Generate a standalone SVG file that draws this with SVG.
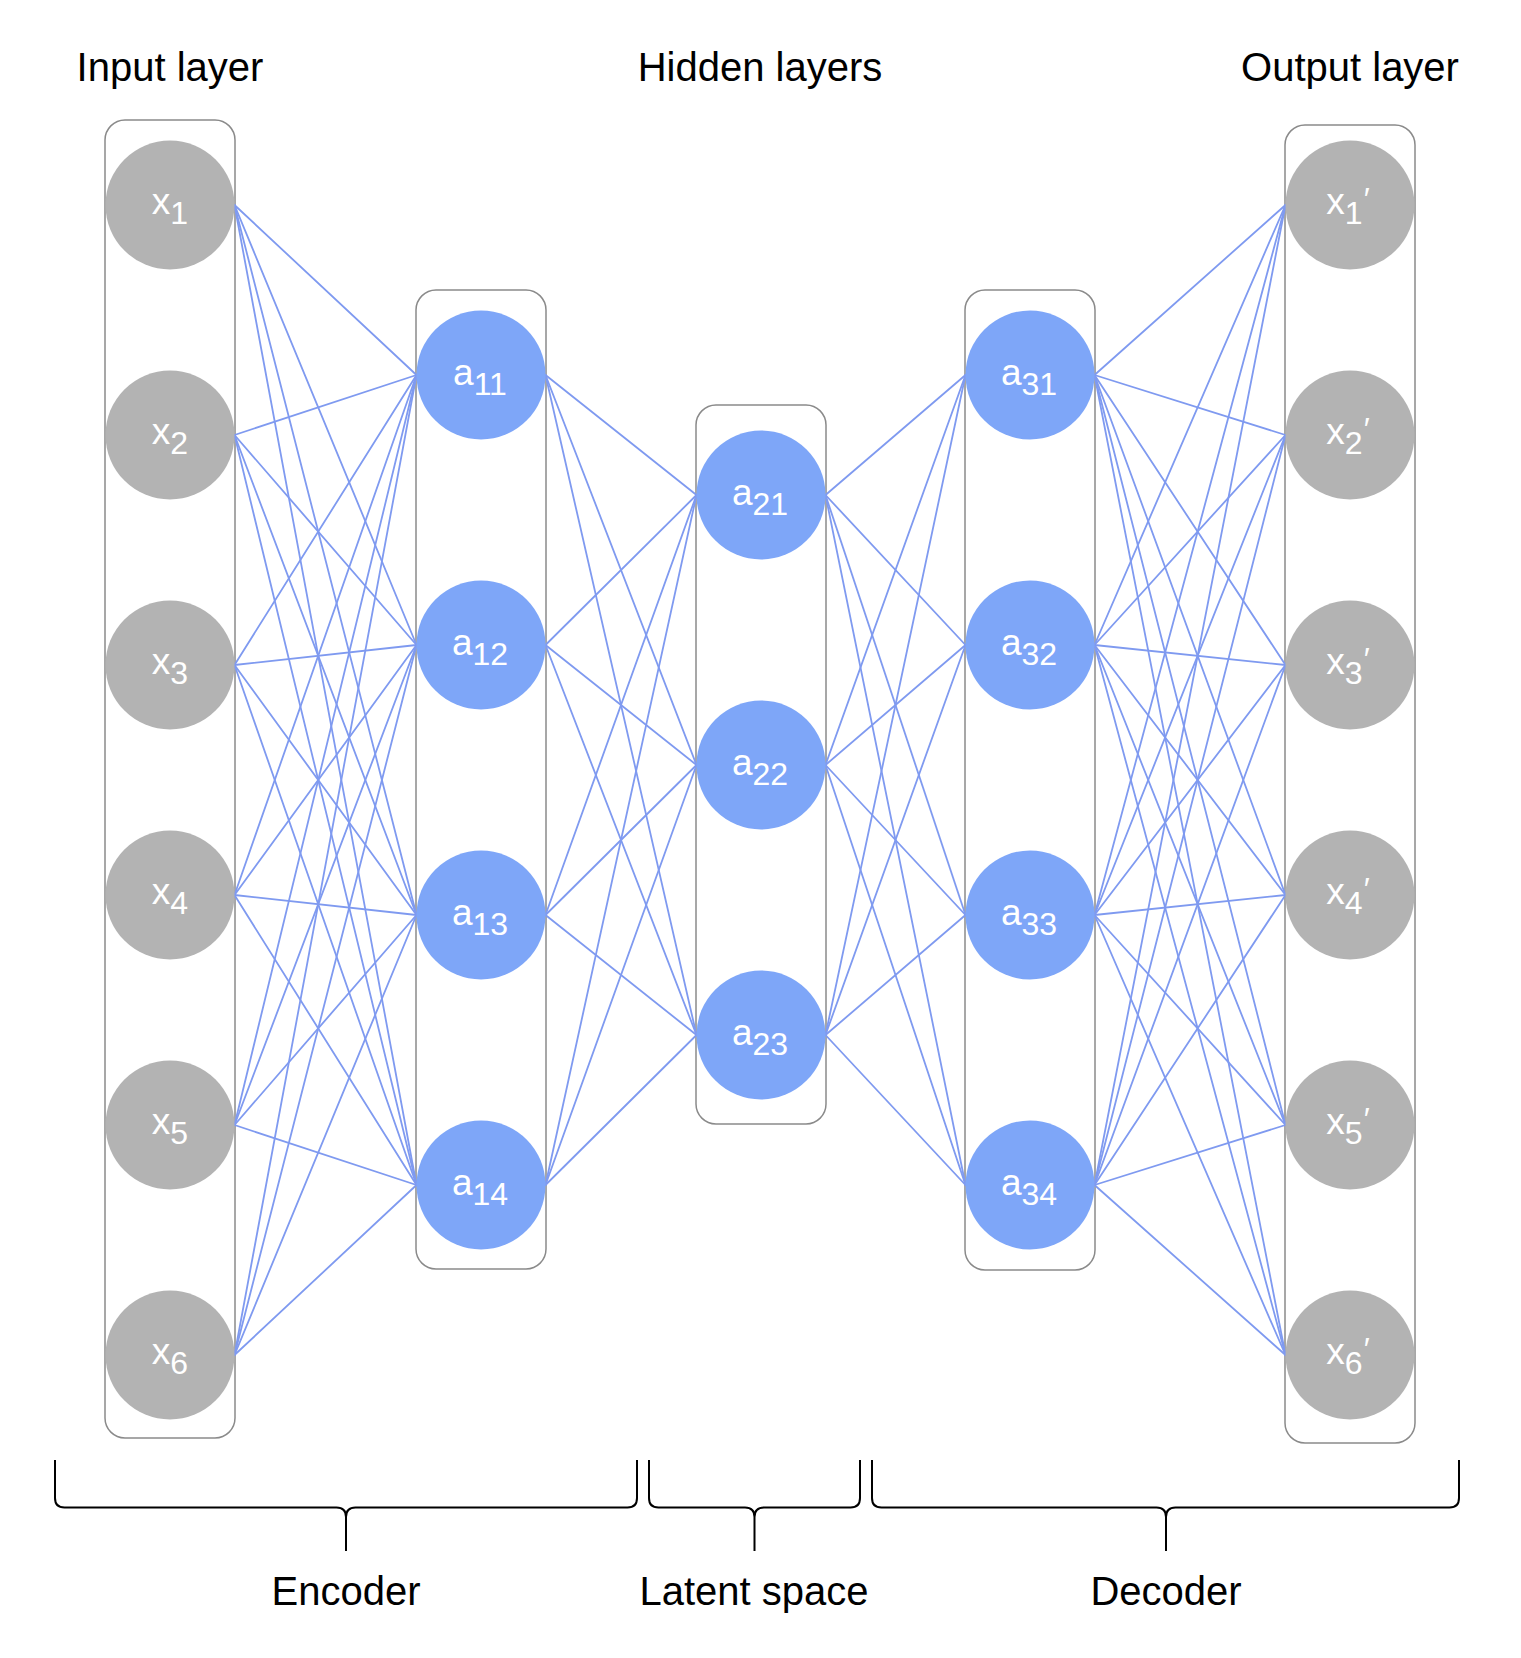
<svg xmlns="http://www.w3.org/2000/svg" width="1521" height="1658" viewBox="0 0 1521 1658">
<style>
.bg{fill:#ffffff}
.box{fill:none;stroke:#8a8a8a;stroke-width:1.5}
.gray{fill:#b3b3b3}
.blue{fill:#7ea6f8}
.c line{stroke:#7f9af0;stroke-width:1.8;stroke-linecap:round}
.lbl{font-family:"Liberation Sans",Arial,sans-serif;font-size:37px;fill:#ffffff;text-anchor:middle}
.sub{font-size:32px}
.pr{font-size:32px}
.title{font-family:"Liberation Sans",Arial,sans-serif;font-size:40px;fill:#000000;text-anchor:middle}
.brace{fill:none;stroke:#000000;stroke-width:2}
</style>
<rect class="bg" x="0" y="0" width="1521" height="1658"/>

<g id="layer-boxes">
<rect id="box-input" class="box" x="105" y="120" width="130" height="1318" rx="20"/>
<rect id="box-h1" class="box" x="416" y="290" width="130" height="979" rx="20"/>
<rect id="box-h2" class="box" x="696" y="405" width="130" height="719" rx="20"/>
<rect id="box-h3" class="box" x="965" y="290" width="130" height="980" rx="20"/>
<rect id="box-output" class="box" x="1285" y="125" width="130" height="1318" rx="20"/>
</g>

<g id="connectors" class="c">
<line x1="234.5" y1="205" x2="416.5" y2="375"/>
<line x1="234.5" y1="205" x2="416.5" y2="645"/>
<line x1="234.5" y1="205" x2="416.5" y2="915"/>
<line x1="234.5" y1="205" x2="416.5" y2="1185"/>
<line x1="234.5" y1="435" x2="416.5" y2="375"/>
<line x1="234.5" y1="435" x2="416.5" y2="645"/>
<line x1="234.5" y1="435" x2="416.5" y2="915"/>
<line x1="234.5" y1="435" x2="416.5" y2="1185"/>
<line x1="234.5" y1="665" x2="416.5" y2="375"/>
<line x1="234.5" y1="665" x2="416.5" y2="645"/>
<line x1="234.5" y1="665" x2="416.5" y2="915"/>
<line x1="234.5" y1="665" x2="416.5" y2="1185"/>
<line x1="234.5" y1="895" x2="416.5" y2="375"/>
<line x1="234.5" y1="895" x2="416.5" y2="645"/>
<line x1="234.5" y1="895" x2="416.5" y2="915"/>
<line x1="234.5" y1="895" x2="416.5" y2="1185"/>
<line x1="234.5" y1="1125" x2="416.5" y2="375"/>
<line x1="234.5" y1="1125" x2="416.5" y2="645"/>
<line x1="234.5" y1="1125" x2="416.5" y2="915"/>
<line x1="234.5" y1="1125" x2="416.5" y2="1185"/>
<line x1="234.5" y1="1355" x2="416.5" y2="375"/>
<line x1="234.5" y1="1355" x2="416.5" y2="645"/>
<line x1="234.5" y1="1355" x2="416.5" y2="915"/>
<line x1="234.5" y1="1355" x2="416.5" y2="1185"/>

<line x1="545.5" y1="375" x2="696.5" y2="495"/>
<line x1="545.5" y1="375" x2="696.5" y2="765"/>
<line x1="545.5" y1="375" x2="696.5" y2="1035"/>
<line x1="545.5" y1="645" x2="696.5" y2="495"/>
<line x1="545.5" y1="645" x2="696.5" y2="765"/>
<line x1="545.5" y1="645" x2="696.5" y2="1035"/>
<line x1="545.5" y1="915" x2="696.5" y2="495"/>
<line x1="545.5" y1="915" x2="696.5" y2="765"/>
<line x1="545.5" y1="915" x2="696.5" y2="1035"/>
<line x1="545.5" y1="1185" x2="696.5" y2="495"/>
<line x1="545.5" y1="1185" x2="696.5" y2="765"/>
<line x1="545.5" y1="1185" x2="696.5" y2="1035"/>

<line x1="825.5" y1="495" x2="965.5" y2="375"/>
<line x1="825.5" y1="495" x2="965.5" y2="645"/>
<line x1="825.5" y1="495" x2="965.5" y2="915"/>
<line x1="825.5" y1="495" x2="965.5" y2="1185"/>
<line x1="825.5" y1="765" x2="965.5" y2="375"/>
<line x1="825.5" y1="765" x2="965.5" y2="645"/>
<line x1="825.5" y1="765" x2="965.5" y2="915"/>
<line x1="825.5" y1="765" x2="965.5" y2="1185"/>
<line x1="825.5" y1="1035" x2="965.5" y2="375"/>
<line x1="825.5" y1="1035" x2="965.5" y2="645"/>
<line x1="825.5" y1="1035" x2="965.5" y2="915"/>
<line x1="825.5" y1="1035" x2="965.5" y2="1185"/>

<line x1="1094.5" y1="375" x2="1285.5" y2="205"/>
<line x1="1094.5" y1="375" x2="1285.5" y2="435"/>
<line x1="1094.5" y1="375" x2="1285.5" y2="665"/>
<line x1="1094.5" y1="375" x2="1285.5" y2="895"/>
<line x1="1094.5" y1="375" x2="1285.5" y2="1125"/>
<line x1="1094.5" y1="375" x2="1285.5" y2="1355"/>
<line x1="1094.5" y1="645" x2="1285.5" y2="205"/>
<line x1="1094.5" y1="645" x2="1285.5" y2="435"/>
<line x1="1094.5" y1="645" x2="1285.5" y2="665"/>
<line x1="1094.5" y1="645" x2="1285.5" y2="895"/>
<line x1="1094.5" y1="645" x2="1285.5" y2="1125"/>
<line x1="1094.5" y1="645" x2="1285.5" y2="1355"/>
<line x1="1094.5" y1="915" x2="1285.5" y2="205"/>
<line x1="1094.5" y1="915" x2="1285.5" y2="435"/>
<line x1="1094.5" y1="915" x2="1285.5" y2="665"/>
<line x1="1094.5" y1="915" x2="1285.5" y2="895"/>
<line x1="1094.5" y1="915" x2="1285.5" y2="1125"/>
<line x1="1094.5" y1="915" x2="1285.5" y2="1355"/>
<line x1="1094.5" y1="1185" x2="1285.5" y2="205"/>
<line x1="1094.5" y1="1185" x2="1285.5" y2="435"/>
<line x1="1094.5" y1="1185" x2="1285.5" y2="665"/>
<line x1="1094.5" y1="1185" x2="1285.5" y2="895"/>
<line x1="1094.5" y1="1185" x2="1285.5" y2="1125"/>
<line x1="1094.5" y1="1185" x2="1285.5" y2="1355"/>
</g>

<g id="x1"><circle class="gray" cx="170" cy="205" r="64.5"/><text class="lbl" x="170" y="214">x<tspan class="sub" dy="10">1</tspan></text></g>
<g id="x2"><circle class="gray" cx="170" cy="435" r="64.5"/><text class="lbl" x="170" y="444">x<tspan class="sub" dy="10">2</tspan></text></g>
<g id="x3"><circle class="gray" cx="170" cy="665" r="64.5"/><text class="lbl" x="170" y="674">x<tspan class="sub" dy="10">3</tspan></text></g>
<g id="x4"><circle class="gray" cx="170" cy="895" r="64.5"/><text class="lbl" x="170" y="904">x<tspan class="sub" dy="10">4</tspan></text></g>
<g id="x5"><circle class="gray" cx="170" cy="1125" r="64.5"/><text class="lbl" x="170" y="1134">x<tspan class="sub" dy="10">5</tspan></text></g>
<g id="x6"><circle class="gray" cx="170" cy="1355" r="64.5"/><text class="lbl" x="170" y="1364">x<tspan class="sub" dy="10">6</tspan></text></g>

<g id="a11"><circle class="blue" cx="481" cy="375" r="64.5"/><text class="lbl" x="480" y="385">a<tspan class="sub" dy="10">11</tspan></text></g>
<g id="a12"><circle class="blue" cx="481" cy="645" r="64.5"/><text class="lbl" x="480" y="655">a<tspan class="sub" dy="10">12</tspan></text></g>
<g id="a13"><circle class="blue" cx="481" cy="915" r="64.5"/><text class="lbl" x="480" y="925">a<tspan class="sub" dy="10">13</tspan></text></g>
<g id="a14"><circle class="blue" cx="481" cy="1185" r="64.5"/><text class="lbl" x="480" y="1195">a<tspan class="sub" dy="10">14</tspan></text></g>

<g id="a21"><circle class="blue" cx="761" cy="495" r="64.5"/><text class="lbl" x="760" y="505">a<tspan class="sub" dy="10">21</tspan></text></g>
<g id="a22"><circle class="blue" cx="761" cy="765" r="64.5"/><text class="lbl" x="760" y="775">a<tspan class="sub" dy="10">22</tspan></text></g>
<g id="a23"><circle class="blue" cx="761" cy="1035" r="64.5"/><text class="lbl" x="760" y="1045">a<tspan class="sub" dy="10">23</tspan></text></g>

<g id="a31"><circle class="blue" cx="1030" cy="375" r="64.5"/><text class="lbl" x="1029" y="385">a<tspan class="sub" dy="10">31</tspan></text></g>
<g id="a32"><circle class="blue" cx="1030" cy="645" r="64.5"/><text class="lbl" x="1029" y="655">a<tspan class="sub" dy="10">32</tspan></text></g>
<g id="a33"><circle class="blue" cx="1030" cy="915" r="64.5"/><text class="lbl" x="1029" y="925">a<tspan class="sub" dy="10">33</tspan></text></g>
<g id="a34"><circle class="blue" cx="1030" cy="1185" r="64.5"/><text class="lbl" x="1029" y="1195">a<tspan class="sub" dy="10">34</tspan></text></g>

<g id="x1p"><circle class="gray" cx="1350" cy="205" r="64.5"/><text class="lbl" x="1348" y="214">x<tspan class="sub" dy="10">1</tspan><tspan class="pr" dx="1" dy="-14">′</tspan></text></g>
<g id="x2p"><circle class="gray" cx="1350" cy="435" r="64.5"/><text class="lbl" x="1348" y="444">x<tspan class="sub" dy="10">2</tspan><tspan class="pr" dx="1" dy="-14">′</tspan></text></g>
<g id="x3p"><circle class="gray" cx="1350" cy="665" r="64.5"/><text class="lbl" x="1348" y="674">x<tspan class="sub" dy="10">3</tspan><tspan class="pr" dx="1" dy="-14">′</tspan></text></g>
<g id="x4p"><circle class="gray" cx="1350" cy="895" r="64.5"/><text class="lbl" x="1348" y="904">x<tspan class="sub" dy="10">4</tspan><tspan class="pr" dx="1" dy="-14">′</tspan></text></g>
<g id="x5p"><circle class="gray" cx="1350" cy="1125" r="64.5"/><text class="lbl" x="1348" y="1134">x<tspan class="sub" dy="10">5</tspan><tspan class="pr" dx="1" dy="-14">′</tspan></text></g>
<g id="x6p"><circle class="gray" cx="1350" cy="1355" r="64.5"/><text class="lbl" x="1348" y="1364">x<tspan class="sub" dy="10">6</tspan><tspan class="pr" dx="1" dy="-14">′</tspan></text></g>

<g id="titles">
<text class="title" x="170" y="81">Input layer</text>
<text class="title" x="760" y="81">Hidden layers</text>
<text class="title" x="1350" y="81">Output layer</text>
</g>

<g id="brace-encoder">
<path class="brace" d="M55,1460 V1498 Q55,1507.5 64.5,1507.5 H336.5 Q346,1507.5 346,1517 V1551 M637,1460 V1498 Q637,1507.5 627.5,1507.5 H355.5 Q346,1507.5 346,1517"/>
<text class="title" x="346" y="1605">Encoder</text>
</g>
<g id="brace-latent">
<path class="brace" d="M649,1460 V1498 Q649,1507.5 658.5,1507.5 H745 Q754.5,1507.5 754.5,1517 V1551 M860,1460 V1498 Q860,1507.5 850.5,1507.5 H764 Q754.5,1507.5 754.5,1517"/>
<text class="title" x="754" y="1605">Latent space</text>
</g>
<g id="brace-decoder">
<path class="brace" d="M872,1460 V1498 Q872,1507.5 881.5,1507.5 H1156.5 Q1166,1507.5 1166,1517 V1551 M1459,1460 V1498 Q1459,1507.5 1449.5,1507.5 H1175.5 Q1166,1507.5 1166,1517"/>
<text class="title" x="1166" y="1605">Decoder</text>
</g>
</svg>
